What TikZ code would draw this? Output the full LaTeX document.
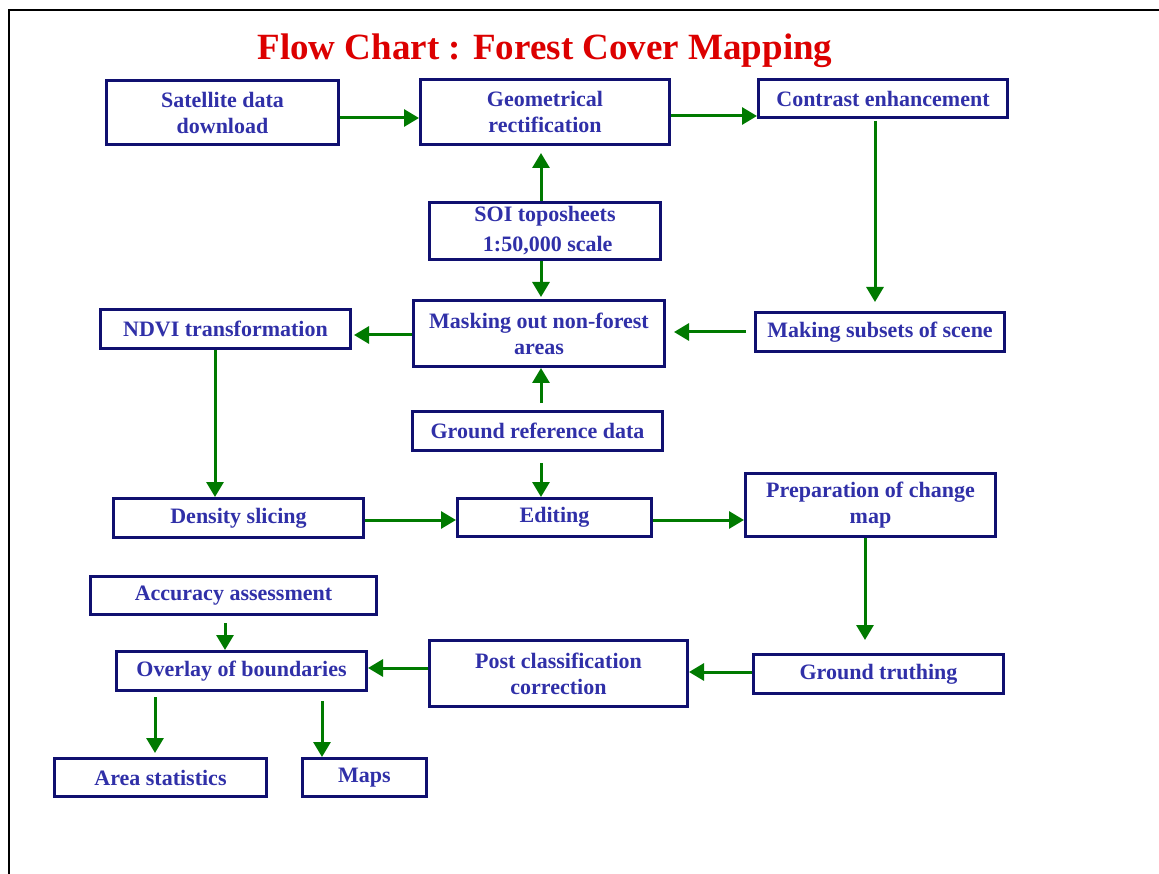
\documentclass[tikz,border=0pt]{standalone}
\usepackage{fontspec}
\setmainfont{Liberation Serif}
\usetikzlibrary{arrows.meta}
\definecolor{boxline}{RGB}{16,16,112}
\definecolor{boxtext}{RGB}{48,48,168}
\definecolor{arrgreen}{RGB}{0,122,0}
\definecolor{titlered}{RGB}{220,0,0}
\begin{document}
\begin{tikzpicture}[x=1pt,y=-1pt,
  flowbox/.style={draw=boxline, line width=3pt, rectangle, inner sep=0pt, align=center,
    text=boxtext, font=\bfseries\fontsize{22}{26}\selectfont},
  arr/.style={draw=arrgreen, line width=3pt, -{Triangle[length=15pt,width=17pt]}},
]
\useasboundingbox (0,0) rectangle (1159,874);
\draw[line width=2.5pt] (9,874) -- (9,10) -- (1159,10);

\node[anchor=base, text=titlered, font=\bfseries\fontsize{37}{40}\selectfont] (title) at (545,60) {Flow Chart : Forest Cover Mapping};

\node[flowbox, minimum width=232pt, minimum height=64pt] (sat) at (222.5,112.5) {Satellite data\\download};
\node[flowbox, minimum width=249pt, minimum height=65pt] (geo) at (545,112) {Geometrical\\rectification};
\node[flowbox, minimum width=249pt, minimum height=38pt] (con) at (883,98.5) {Contrast enhancement};
\node[flowbox, minimum width=231pt, minimum height=57pt, font=\bfseries\fontsize{22}{30}\selectfont] (soi) at (545,231) {SOI toposheets\\\ 1:50,000 scale};
\node[flowbox, minimum width=251pt, minimum height=66pt] (mask) at (539,333.5) {Masking out non-forest\\areas};
\node[flowbox, minimum width=250pt, minimum height=39pt] (ndvi) at (225.5,329) {NDVI transformation};
\node[flowbox, minimum width=249pt, minimum height=39pt] (sub) at (880,332) {Making subsets of scene};
\node[flowbox, minimum width=250pt, minimum height=39pt] (gref) at (537.5,431) {Ground reference data};
\node[flowbox, minimum width=250pt, minimum height=39pt] (dens) at (238.5,518) {Density slicing};
\node[flowbox, minimum width=194pt, minimum height=38pt] (edit) at (554.5,517.5) {Editing};
\node[flowbox, minimum width=250pt, minimum height=63pt] (prep) at (870.5,505) {Preparation of change\\map};
\node[flowbox, minimum width=250pt, minimum height=39pt] (gt) at (878.5,674) {Ground truthing};
\node[flowbox, minimum width=258pt, minimum height=66pt] (post) at (558.5,673.5) {Post classification\\correction};
\node[flowbox, minimum width=250pt, minimum height=39pt] (over) at (241.5,671) {Overlay of boundaries};
\node[flowbox, minimum width=286pt, minimum height=38pt] (acc) at (233.5,595.5) {Accuracy assessment};
\node[flowbox, minimum width=212pt, minimum height=38pt] (area) at (160.5,777.5) {Area statistics};
\node[flowbox, minimum width=124pt, minimum height=38pt] (maps) at (364.5,777.5) {Maps};

\draw[arr] ([yshift=-5.5pt]sat.east) -- ([yshift=-5.5pt]sat.east -| geo.west);
\draw[arr] ([yshift=-4pt]geo.east) -- ([yshift=-4pt]geo.east -| con.west);
\draw[arr, shorten <=2pt, shorten >=9pt] ([xshift=-8pt]con.south) -- ([xshift=-8pt]con.south |- sub.north);
\draw[arr, shorten >=7pt] ([xshift=-4pt]soi.north) -- ([xshift=-4pt]soi.north |- geo.south);
\draw[arr, shorten >=2pt] ([xshift=-4pt]soi.south) -- ([xshift=-4pt]soi.south |- mask.north);
\draw[arr, shorten >=2pt] ([yshift=-1.5pt]mask.west) -- ([yshift=-1.5pt]mask.west -| ndvi.east);
\draw[arr, shorten <=8pt, shorten >=8pt] (sub.west) -- (sub.west -| mask.east);
\draw[arr] ([xshift=-10.5pt]ndvi.south) -- ([xshift=-10.5pt]ndvi.south |- dens.north);
\draw[arr, shorten <=7pt] ([xshift=3.5pt]gref.north) -- ([xshift=3.5pt]gref.north |- mask.south);
\draw[arr, shorten <=11pt] ([xshift=3.5pt]gref.south) -- ([xshift=3.5pt]gref.south |- edit.north);
\draw[arr] ([yshift=-2pt]dens.east) -- ([yshift=-2pt]dens.east -| edit.west);
\draw[arr] ([yshift=-2.5pt]edit.east) -- ([yshift=-2.5pt]edit.east -| prep.west);
\draw[arr, shorten >=13pt] ([xshift=-5.5pt]prep.south) -- ([xshift=-5.5pt]prep.south |- gt.north);
\draw[arr] ([yshift=2pt]gt.west) -- ([yshift=2pt]gt.west -| post.east);
\draw[arr] ([yshift=5.5pt]post.west) -- ([yshift=5.5pt]post.west -| over.east);
\draw[arr, shorten <=7pt] ([xshift=-8.5pt]acc.south) -- ([xshift=-8.5pt]acc.south |- over.north);
\draw[arr, shorten <=5pt, shorten >=4pt] ([xshift=-5.5pt]area.north |- over.south) -- ([xshift=-5.5pt]area.north);
\draw[arr, shorten <=9pt] ([xshift=-42.5pt]maps.north |- over.south) -- ([xshift=-42.5pt]maps.north);
\end{tikzpicture}
\end{document}
